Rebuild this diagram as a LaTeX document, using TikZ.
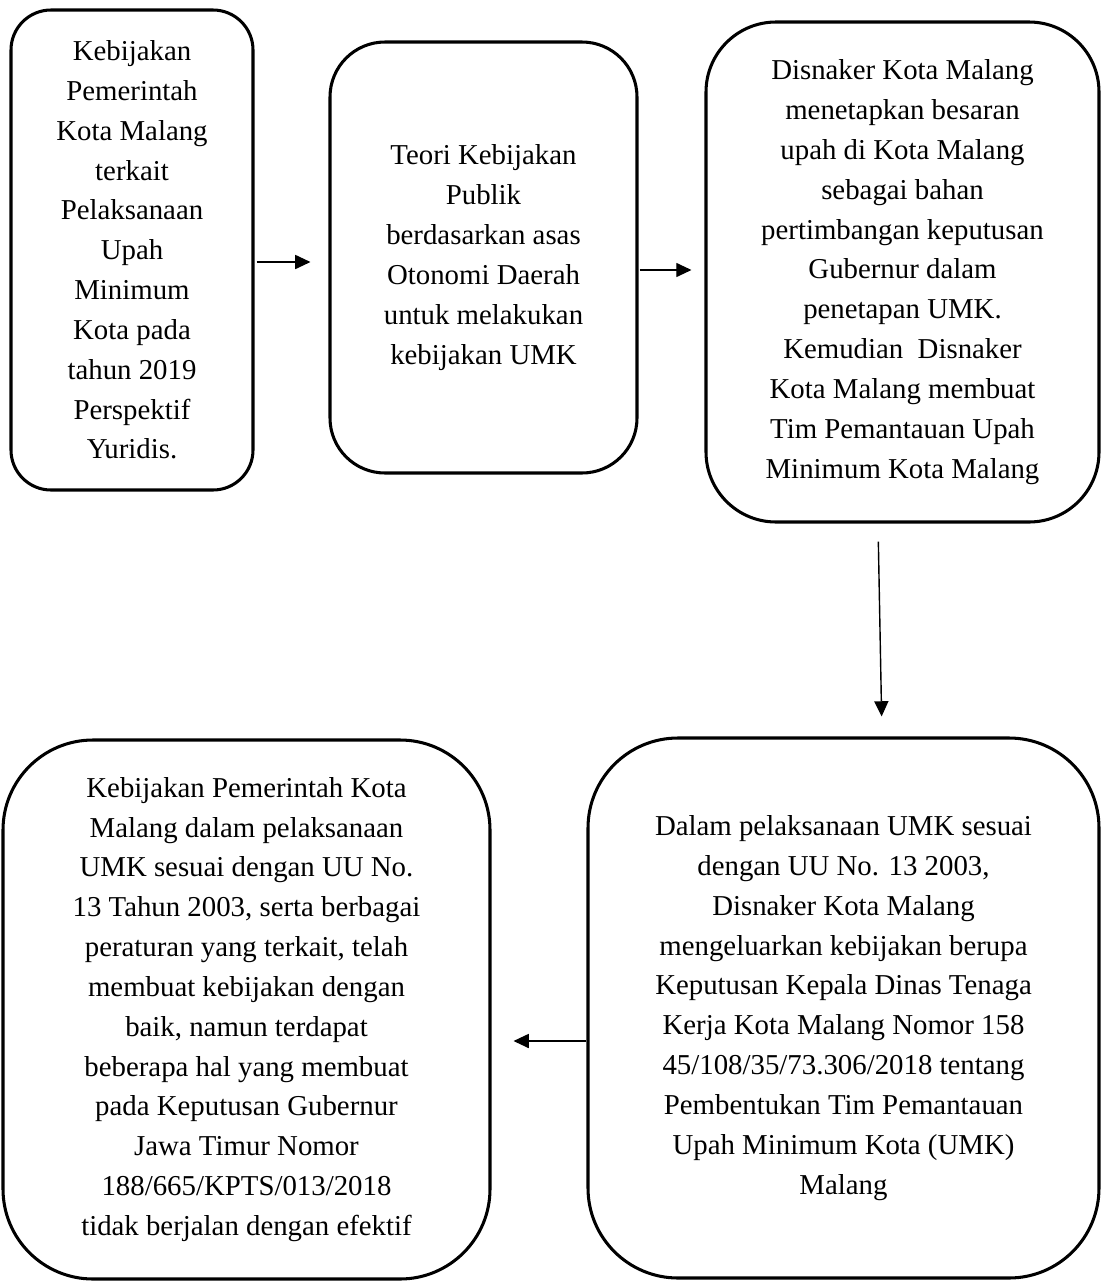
\documentclass[tikz,border=0pt]{standalone}
\usepackage{fontspec}
\setmainfont{Liberation Serif}
\usetikzlibrary{arrows.meta}
\begin{document}
\begin{tikzpicture}[>={Triangle[length=6.5pt,width=6pt]},x=0.015cm,y=-0.015cm,
	kotak/.style={draw,line width=1.3pt,align=center,inner sep=0pt,font=\fontsize{12.3}{17}\selectfont},
	panah/.style={->,line width=0.6pt}]
		\useasboundingbox (0,0) rectangle (1102,1282);
		% baris atas
		\node[kotak,rounded corners=40*0.015cm,minimum width=242*0.015cm,minimum height=480*0.015cm] (b1) at (132,250)
		{Kebijakan\\Pemerintah\\Kota Malang\\terkait\\Pelaksanaan\\Upah\\Minimum\\Kota pada\\tahun 2019\\Perspektif\\Yuridis.};
		\node[kotak,rounded corners=55*0.015cm,minimum width=307*0.015cm,minimum height=431*0.015cm] (b2) at (483.5,257.5)
		{Teori Kebijakan\\Publik\\berdasarkan asas\\Otonomi Daerah\\untuk melakukan\\kebijakan UMK};
		\node[kotak,rounded corners=70*0.015cm,minimum width=393*0.015cm,minimum height=500*0.015cm] (b3) at (902.5,272)
		{Disnaker Kota Malang\\menetapkan besaran\\upah di Kota Malang\\sebagai bahan\\pertimbangan keputusan\\Gubernur dalam\\penetapan UMK.\\Kemudian~ Disnaker\\Kota Malang membuat\\Tim Pemantauan Upah\\Minimum Kota Malang};
		% baris bawah
		\node[kotak,rounded corners=90*0.015cm,minimum width=487*0.015cm,minimum height=539*0.015cm] (b4) at (246.5,1009.5)
		{Kebijakan Pemerintah Kota\\Malang dalam pelaksanaan\\UMK sesuai dengan UU No.\\13 Tahun 2003, serta berbagai\\peraturan yang terkait, telah\\membuat kebijakan dengan\\baik, namun terdapat\\beberapa hal yang membuat\\pada Keputusan Gubernur\\Jawa Timur Nomor\\188/665/KPTS/013/2018\\tidak berjalan dengan efektif};
		\node[kotak,rounded corners=90*0.015cm,minimum width=511*0.015cm,minimum height=540*0.015cm] (b5) at (843.5,1008)
		{Dalam pelaksanaan UMK sesuai\\dengan UU No. 13 2003,\\Disnaker Kota Malang\\mengeluarkan kebijakan berupa\\Keputusan Kepala Dinas Tenaga\\Kerja Kota Malang Nomor 158\\45/108/35/73.306/2018 tentang\\Pembentukan Tim Pemantauan\\Upah Minimum Kota (UMK)\\Malang};
		% panah
		\draw[panah,shorten <=2*0.015cm,shorten >=18*0.015cm] (b1.east |- 0,262) -- (b2.west |- 0,262);
		\draw[panah,shorten <=1*0.015cm,shorten >=13*0.015cm] (b2.east |- 0,270) -- (b3.west |- 0,270);
		\draw[panah,shorten <=18*0.015cm,shorten >=20*0.015cm] (b3.south -| 878,0) -- (b5.north -| 882,0);
		\draw[panah,shorten >=22*0.015cm] (b5.west |- 0,1041) -- (b4.east |- 0,1041);
\end{tikzpicture}
\end{document}
